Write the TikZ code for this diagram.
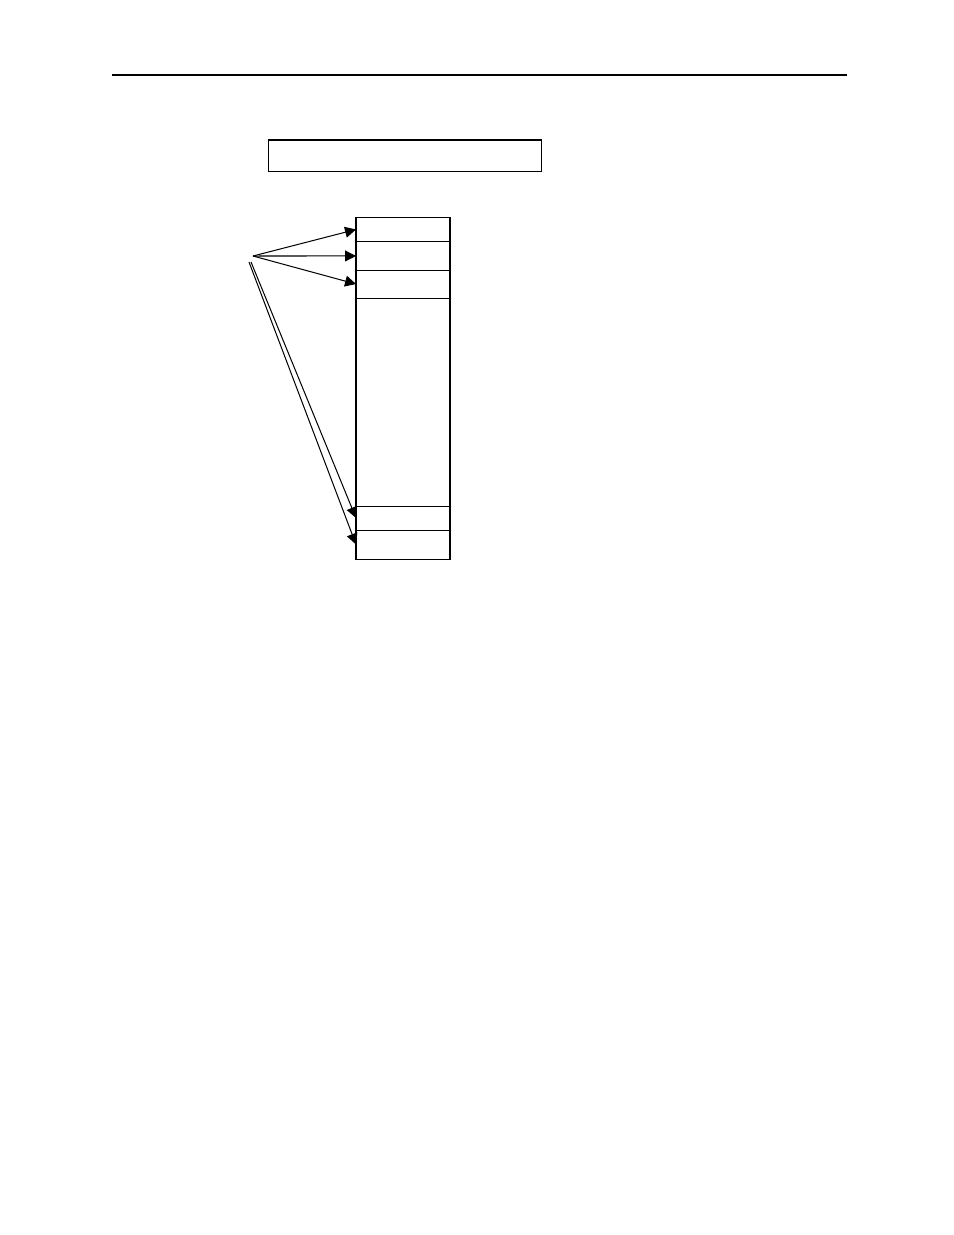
\documentclass[tikz,border=0pt]{standalone}
\usetikzlibrary{positioning,arrows.meta}
\begin{document}
\begin{tikzpicture}[x=0.6415pt, y=-0.6415pt, line width=0.65pt,
		cell/.style={draw, minimum width=60.3pt, inner sep=0pt, outer sep=0pt},
		ptr/.style={-{Triangle[length=7pt, width=7pt]}}]
		\useasboundingbox (0,0) rectangle (954,1235);
		\draw[line width=1.3pt] (112,75) -- (847,75);
		
		\node[draw, minimum width=175.5pt, minimum height=19.9pt, inner sep=0pt] (title) at (404.8,155.5) {};
		
		\node[cell, minimum height=16pt, anchor=north] (c1) at (403,217) {};
		\node[cell, minimum height=18pt, below=0pt of c1] (c2) {};
		\node[cell, minimum height=18pt, below=0pt of c2] (c3) {};
		\node[cell, minimum height=133.4pt, below=0pt of c3] (c4) {};
		\node[cell, minimum height=15.4pt, below=0pt of c4] (c5) {};
		\node[cell, minimum height=18.6pt, below=0pt of c5] (c6) {};
		
		\coordinate (src) at (253,256);
		\coordinate (srcl) at (249,262);
		\coordinate (srcr) at (251,262);
		\foreach \c in {c1,c2,c3}
			\draw[ptr] (src) -- (\c.west);
		\draw[ptr] (srcr) -- (c5.west);
		\draw[ptr] (srcl) -- (c6.west);
	\end{tikzpicture}
\end{document}
